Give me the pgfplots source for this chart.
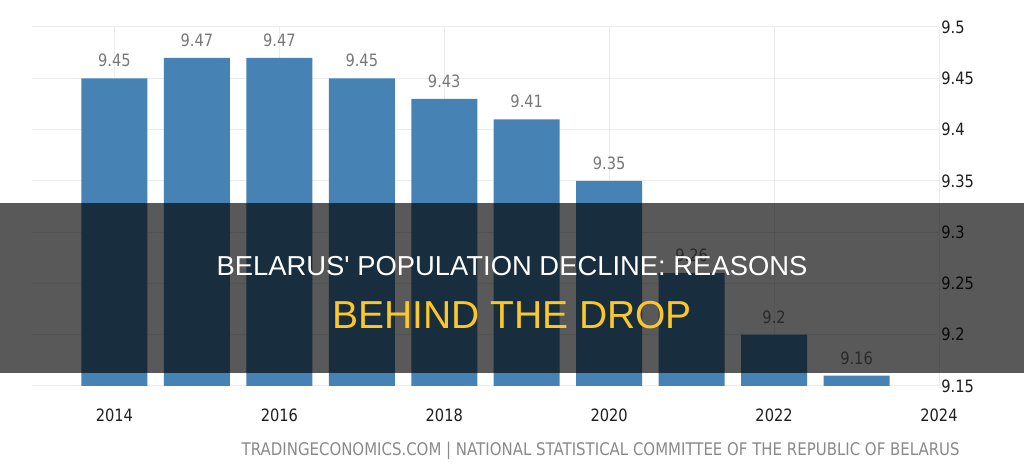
\documentclass[border=0pt]{standalone}
\usepackage{pgfplots}
\pgfplotsset{compat=1.18}
\usepackage{fontspec}
\newfontfamily\tah[FakeStretch=0.86]{DejaVu Sans}
\newfontfamily\arial{Liberation Sans}
\definecolor{barblue}{RGB}{70,130,180}
\definecolor{valgray}{RGB}{120,120,120}
\definecolor{footgray}{RGB}{138,138,138}
\definecolor{titleyellow}{RGB}{250,200,40}
\definecolor{gridgray}{RGB}{236,236,236}
\begin{document}
\begin{tikzpicture}
\fill[white] (0,0) rectangle (512pt,238pt);
\useasboundingbox (0,0) rectangle (512pt,238pt);
\begin{axis}[
  at={(16pt,45pt)}, anchor=south west,
  scale only axis, width=453.5pt, height=179.5pt,
  xmin=2013, xmax=2024, ymin=9.15, ymax=9.5,
  ybar, bar width=0.8,
  xtick={2014,2016,2018,2020,2022,2024},
  xticklabels={2014,2016,2018,2020,2022,2024},
  ytick={9.15,9.2,9.25,9.3,9.35,9.4,9.45,9.5},
  yticklabels={9.15,9.2,9.25,9.3,9.35,9.4,9.45,9.5},
  yticklabel pos=right,
  axis line style={draw=none},
  tick style={draw=none},
  grid=major,
  major grid style={draw=gridgray, line width=0.5pt},
  xticklabel style={font=\tah\fontsize{8.5pt}{10pt}\selectfont, text=black!88, anchor=north, inner sep=0pt, yshift=-7pt},
  yticklabel style={font=\tah\fontsize{8.5pt}{10pt}\selectfont, text=black!88, anchor=west, inner sep=0pt, xshift=1pt},
  point meta=explicit symbolic,
  nodes near coords,
  every node near coord/.append style={font=\tah\fontsize{8.5pt}{10pt}\selectfont, text=valgray, anchor=south, inner sep=0pt, yshift=5.5pt},
]
\addplot[fill=barblue, draw=none] coordinates {
  (2014,9.45) [9.45]
  (2015,9.47) [9.47]
  (2016,9.47) [9.47]
  (2017,9.45) [9.45]
  (2018,9.43) [9.43]
  (2019,9.41) [9.41]
  (2020,9.35) [9.35]
  (2021,9.26) [9.26]
  (2022,9.2) [9.2]
  (2023,9.16) [9.16]
};
\end{axis}
\fill[black, opacity=0.65] (0,51.5pt) rectangle (512pt,136.5pt);
\node[font=\arial\fontsize{13.7pt}{16pt}\selectfont, text=white, anchor=center, inner sep=0pt] at (256pt,105pt) {BELARUS' POPULATION DECLINE: REASONS};
\node[font=\arial\fontsize{19.5pt}{22pt}\selectfont, text=titleyellow, anchor=center, inner sep=0pt] at (256pt,80.5pt) {BEHIND THE DROP};
\node[font=\tah\fontsize{8.7pt}{10pt}\selectfont, text=footgray, anchor=base east, inner sep=0pt] at (480pt,10pt) {TRADINGECONOMICS.COM | NATIONAL STATISTICAL COMMITTEE OF THE REPUBLIC OF BELARUS};
\end{tikzpicture}
\end{document}
